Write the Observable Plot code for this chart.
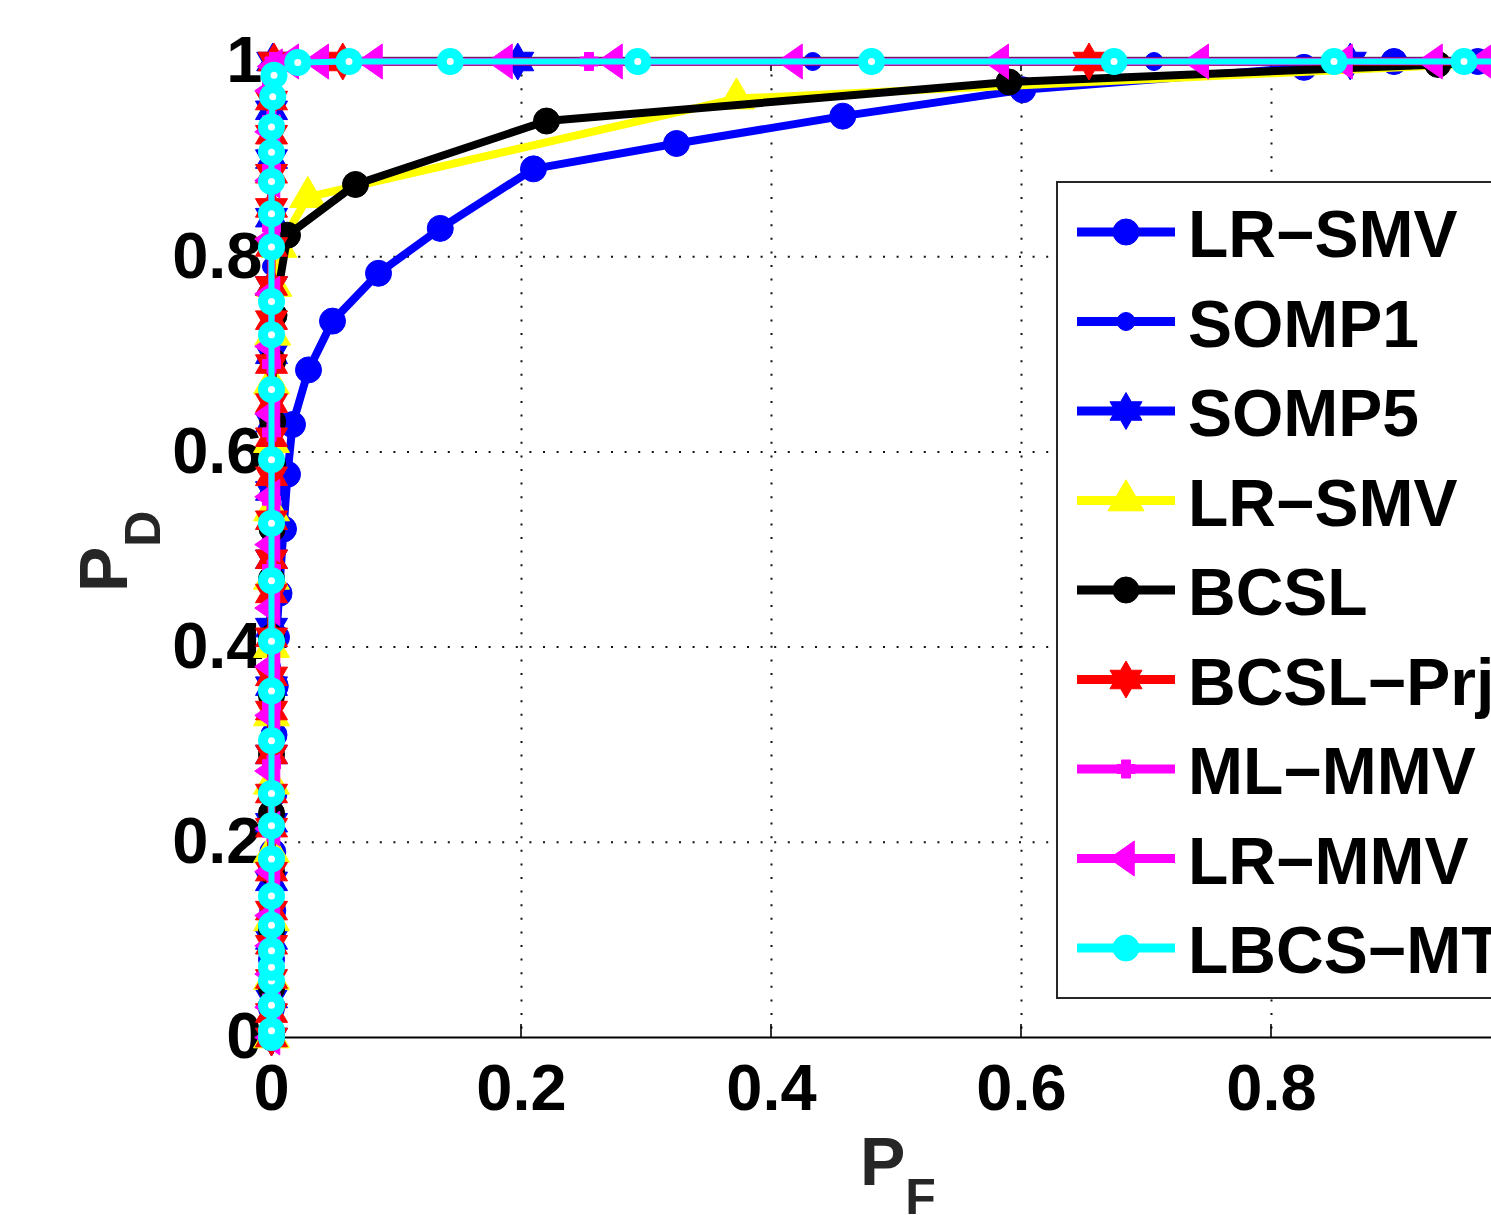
<!DOCTYPE html>
<html><head><meta charset="utf-8">
<script src="https://cdn.jsdelivr.net/npm/d3@7"></script>
<script src="https://cdn.jsdelivr.net/npm/@observablehq/plot@0.6"></script>
<style>
html,body{margin:0;padding:0;background:#fff;}
#chart{position:relative;width:1491px;height:1215px;overflow:hidden;}
#chart svg{overflow:hidden;}
</style></head><body><div id="chart"></div>
<script>
// ---------- data ----------
const xTicks = [0, 0.2, 0.4, 0.6, 0.8];
const xTickLabels = ["0", "0.2", "0.4", "0.6", "0.8"];
const yTicks = [0, 0.2, 0.4, 0.6, 0.8, 1];
const yTickLabels = ["0", "0.2", "0.4", "0.6", "0.8", "1"];
const seriesNames = ["LR\u2212SMV", "SOMP1", "SOMP5", "LR\u2212SMV", "BCSL", "BCSL\u2212Prj", "ML\u2212MMV", "LR\u2212MMV", "LBCS\u2212MT"];
const xTitle = ["P", "F"];
const yTitle = ["P", "D"];

const lrSmvX = [0, 0, 0, 0.001, 0.001, 0.002, 0.002, 0.003, 0.004, 0.006, 0.0096, 0.0128, 0.0168, 0.0296, 0.0488, 0.0856, 0.135, 0.2096, 0.324, 0.457, 0.601, 0.826, 0.898, 0.965, 1];
const lrSmvY = [0, 0.03, 0.08, 0.13, 0.19, 0.25, 0.31, 0.36, 0.41, 0.455, 0.521, 0.577, 0.628, 0.684, 0.734, 0.783, 0.829, 0.890, 0.916, 0.944, 0.971, 0.994, 1, 1, 1];

const somp1X = [0, 0, 0, 0, 0, 0, 0, 0, 0, 0, 0, 0, 0, 0, 0, 0.001, 0.003, 0.433, 0.706, 1];
const somp1Y = [0, 0.05, 0.11, 0.18, 0.24, 0.31, 0.38, 0.44, 0.51, 0.58, 0.65, 0.72, 0.79, 0.85, 0.91, 0.96, 1, 1, 1, 1];

const somp5X = [0, 0, 0, 0, 0, 0, 0, 0, 0, 0, 0, 0, 0, 0, 0, 0, 0.001, 0.197, 0.863, 1];
const somp5Y = [0, 0.04, 0.10, 0.16, 0.22, 0.29, 0.36, 0.42, 0.49, 0.56, 0.63, 0.70, 0.77, 0.84, 0.90, 0.95, 1, 1, 1, 1];

const lrSmv2X = [0, 0, 0, 0, 0, 0, 0, 0, 0, 0, 0, 0.001, 0.002, 0.006, 0.029, 0.372, 1];
const lrSmv2Y = [0, 0.06, 0.12, 0.19, 0.26, 0.33, 0.40, 0.47, 0.54, 0.61, 0.67, 0.72, 0.77, 0.81, 0.861, 0.962, 1];

const bcslX = [0, 0, 0, 0, 0, 0, 0, 0, 0, 0.0005, 0.001, 0.001, 0.001, 0.002, 0.0128, 0.0672, 0.22, 0.59, 0.933, 1];
const bcslY = [0, 0.05, 0.11, 0.17, 0.23, 0.29, 0.35, 0.41, 0.47, 0.521, 0.587, 0.631, 0.693, 0.74, 0.822, 0.874, 0.939, 0.979, 0.997, 1];

const bcslPrjX = [0, 0, 0, 0, 0, 0, 0, 0, 0, 0, 0, 0, 0, 0, 0, 0, 0, 0, 0, 0, 0, 0, 0, 0, 0, 0, 0.002, 0.057, 0.654, 1];
const bcslPrjY = [0, 0.025, 0.06, 0.095, 0.13, 0.17, 0.215, 0.25, 0.29, 0.335, 0.37, 0.41, 0.455, 0.49, 0.53, 0.575, 0.615, 0.65, 0.69, 0.735, 0.77, 0.81, 0.85, 0.885, 0.925, 0.96, 1, 1, 1, 1];

const mlMmvX = [0, 0, 0, 0, 0, 0, 0, 0, 0, 0, 0, 0, 0, 0, 0, 0, 0, 0.002, 0.254, 1];
const mlMmvY = [0, 0.04, 0.09, 0.15, 0.21, 0.28, 0.34, 0.41, 0.48, 0.55, 0.62, 0.69, 0.76, 0.83, 0.89, 0.94, 0.98, 1, 1, 1];

const lrMmvX = [0, 0, 0, 0, 0, 0, 0, 0, 0, 0, 0, 0, 0, 0, 0, 0, 0, 0, 0, 0, 0.002, 0.015, 0.039, 0.082, 0.186, 0.274, 0.418, 0.583, 0.743, 0.858, 0.93, 0.97, 1];
const lrMmvY = [0, 0.031, 0.065, 0.094, 0.125, 0.17, 0.214, 0.273, 0.33, 0.38, 0.44, 0.505, 0.554, 0.639, 0.708, 0.762, 0.818, 0.878, 0.928, 0.97, 0.995, 1, 1, 1, 1, 1, 1, 1, 1, 1, 1, 1, 1];

const lbcsMtX = [0, 0, 0, 0, 0, 0, 0, 0, 0, 0, 0, 0, 0, 0, 0, 0, 0, 0, 0, 0, 0, 0, 0, 0, 0, 0.001, 0.002, 0.021, 0.062, 0.143, 0.293, 0.48, 0.674, 0.85, 0.954, 1];
const lbcsMtY = [0, 0.007, 0.033, 0.058, 0.072, 0.089, 0.115, 0.145, 0.183, 0.217, 0.25, 0.304, 0.355, 0.406, 0.468, 0.527, 0.592, 0.664, 0.72, 0.754, 0.81, 0.844, 0.877, 0.907, 0.933, 0.964, 0.986, 0.999, 1, 1, 1, 1, 1, 1, 1, 1];

const seriesX = [lrSmvX, somp1X, somp5X, lrSmv2X, bcslX, bcslPrjX, mlMmvX, lrMmvX, lbcsMtX];
const seriesY = [lrSmvY, somp1Y, somp5Y, lrSmv2Y, bcslY, bcslPrjY, mlMmvY, lrMmvY, lbcsMtY];

// ---------- symbols ----------
const hexagram = {draw(ctx, size) {
  const R = Math.sqrt(size / Math.PI), r = R / Math.sqrt(3);
  for (let k = 0; k < 12; k++) {
    const a = -Math.PI / 2 + k * Math.PI / 6, rr = k % 2 === 0 ? R : r;
    const px = rr * Math.cos(a), py = rr * Math.sin(a);
    k ? ctx.lineTo(px, py) : ctx.moveTo(px, py);
  }
  ctx.closePath();
}};
const upTri = {draw(ctx, size) {
  const R = Math.sqrt(size / Math.PI);
  ctx.moveTo(0, -1.15 * R); ctx.lineTo(R, 0.575 * R); ctx.lineTo(-R, 0.575 * R); ctx.closePath();
}};
const leftTri = {draw(ctx, size) {
  const R = Math.sqrt(size / Math.PI);
  ctx.moveTo(-0.93 * R, 0); ctx.lineTo(0.46 * R, -0.97 * R); ctx.lineTo(0.46 * R, 0.97 * R); ctx.closePath();
}};
const plusSym = {draw(ctx, size) {
  const R = Math.sqrt(size / Math.PI), t = R / 2;
  ctx.moveTo(-t, -R); ctx.lineTo(t, -R); ctx.lineTo(t, -t); ctx.lineTo(R, -t); ctx.lineTo(R, t); ctx.lineTo(t, t);
  ctx.lineTo(t, R); ctx.lineTo(-t, R); ctx.lineTo(-t, t); ctx.lineTo(-R, t); ctx.lineTo(-R, -t); ctx.lineTo(-t, -t); ctx.closePath();
}};
const circleSym = d3.symbolCircle;

// ---------- styles ----------
const styles = [
  {color: "#0000ff", lw: 8, sym: circleSym, r: 13, fill: "#0000ff", sw: 1},
  {color: "#0000ff", lw: 8, sym: circleSym, r: 9, fill: "#0000ff", sw: 1},
  {color: "#0000ff", lw: 8, sym: hexagram, r: 18.5, fill: "#0000ff", sw: 1},
  {color: "#ffff00", lw: 8, sym: upTri, r: 18, fill: "#ffff00", sw: 1},
  {color: "#000000", lw: 8, sym: circleSym, r: 13, fill: "#000000", sw: 1},
  {color: "#ff0000", lw: 8, sym: hexagram, r: 18.5, fill: "#ff0000", sw: 1},
  {color: "#ff00ff", lw: 7, sym: plusSym, r: 9, fill: "#ff00ff", sw: 1},
  {color: "#ff00ff", lw: 7, sym: leftTri, r: 18, fill: "#ff00ff", sw: 1},
  {color: "#00ffff", lw: 6, sym: circleSym, r: 8.5, fill: "#ffffff", sw: 10, legendFill: "#00ffff", legendR: 13}
];

const W = 1491, H = 1215;
const fontFam = "'Liberation Sans', Arial, Helvetica, sans-serif";
const gridStyle = {stroke: "#111", strokeOpacity: 1, strokeWidth: 2, strokeDasharray: "2,11.6"};

const marks = [
  Plot.gridX(xTicks.filter(v => v > 0), gridStyle),
  Plot.gridY(yTicks.filter(v => v > 0 && v < 1), gridStyle),
  Plot.ruleY([0], {stroke: "#000", strokeWidth: 2}),
  Plot.ruleX([0], {stroke: "#000", strokeWidth: 2}),
  Plot.axisX(xTicks, {tickSize: 0, tickPadding: 26, fontSize: 65, fontWeight: "bold", fill: "#000", label: null,
    tickFormat: d => xTickLabels[xTicks.indexOf(d)]}),
  Plot.axisY(yTicks, {tickSize: 0, tickPadding: 9, fontSize: 65, fontWeight: "bold", fill: "#000", label: null,
    tickFormat: d => yTickLabels[yTicks.indexOf(d)]})
];
seriesX.forEach((xs, i) => {
  const rows = xs.map((x, j) => ({x, y: seriesY[i][j]}));
  const s = styles[i];
  marks.push(Plot.line(rows, {x: "x", y: "y", stroke: s.color, strokeWidth: s.lw, strokeLinejoin: "round"}));
  marks.push(Plot.dot(rows, {x: "x", y: "y", symbol: s.sym, r: s.r, fill: s.fill, stroke: s.color, strokeWidth: s.sw}));
});

const plot = Plot.plot({
  width: W, height: H,
  marginLeft: 271, marginRight: 0, marginTop: 61, marginBottom: H - 1037,
  x: {domain: [0, 1], range: [271, 1521]},
  y: {domain: [0, 1], range: [1037, 61]},
  style: {fontFamily: fontFam, background: "#fff"},
  marks
});
document.getElementById("chart").append(plot);

// ---------- frame details, titles, legend ----------
const svg = d3.select(plot);
const xs = plot.scale("x"), ys = plot.scale("y");
const X = v => xs.apply(v), Y = v => ys.apply(v);

// top box line (drawn under the series)
const under = svg.insert("g", "g[aria-label='line']");
under.append("line").attr("x1", X(0)).attr("x2", W).attr("y1", Y(1) - 3.5).attr("y2", Y(1) - 3.5)
  .attr("stroke", "#555").attr("stroke-width", 1.6);
// inward ticks
xTicks.filter(v => v > 0).forEach(v => {
  under.append("line").attr("x1", X(v)).attr("x2", X(v)).attr("y1", Y(0)).attr("y2", Y(0) - 13).attr("stroke", "#000").attr("stroke-width", 1.6);
  under.append("line").attr("x1", X(v)).attr("x2", X(v)).attr("y1", Y(1) - 3.5).attr("y2", Y(1) + 10).attr("stroke", "#000").attr("stroke-width", 1.6);
});

// axis titles
const tx = svg.append("text").attr("x", 860).attr("y", 1185).attr("fill", "#262626").attr("text-anchor", "start")
  .attr("font-family", fontFam).attr("font-weight", "bold").attr("font-size", 68);
tx.append("tspan").text(xTitle[0]);
tx.append("tspan").attr("dy", 29).attr("font-size", 50).text(xTitle[1]);
const ty = svg.append("text").attr("transform", "translate(127,592) rotate(-90)").attr("fill", "#262626")
  .attr("text-anchor", "start")
  .attr("font-family", fontFam).attr("font-weight", "bold").attr("font-size", 68);
ty.append("tspan").text(yTitle[0]);
ty.append("tspan").attr("dy", 33).attr("font-size", 50).text(yTitle[1]);

// legend
const lg = svg.append("g");
lg.append("rect").attr("x", 1057).attr("y", 182).attr("width", 600).attr("height", 816)
  .attr("fill", "#fff").attr("stroke", "#262626").attr("stroke-width", 2);
seriesNames.forEach((name, i) => {
  const s = styles[i];
  const cy = 232 + i * 89.5;
  lg.append("line").attr("x1", 1077).attr("x2", 1175).attr("y1", cy).attr("y2", cy)
    .attr("stroke", s.color).attr("stroke-width", 9);
  const r = s.legendR || s.r;
  lg.append("path").attr("transform", `translate(1126,${cy})`)
    .attr("d", d3.symbol(s.sym, r * r * Math.PI)())
    .attr("fill", s.legendFill || s.fill).attr("stroke", s.color).attr("stroke-width", 1);
  lg.append("text").attr("x", 1188).attr("y", cy + 25).attr("text-anchor", "start").attr("font-family", fontFam)
    .attr("font-weight", "bold").attr("font-size", 66).attr("fill", "#000").text(name);
});
</script></body></html>
